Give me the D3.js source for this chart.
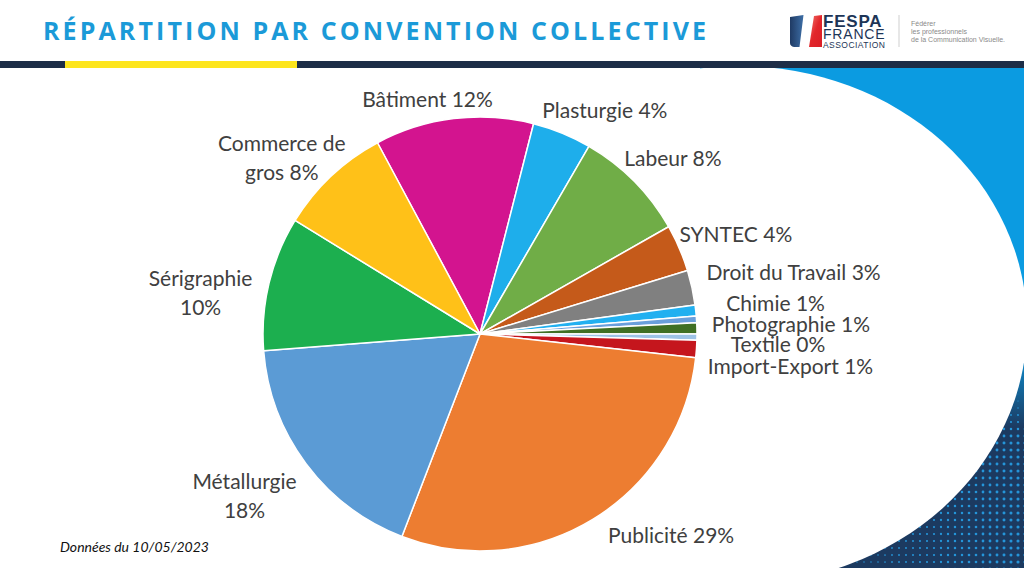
<!DOCTYPE html>
<html><head><meta charset="utf-8">
<script src="https://cdn.jsdelivr.net/npm/d3@7"></script>
<style>html,body{margin:0;padding:0;background:#fff;overflow:hidden} svg{display:block}</style>
</head><body>
<svg id="c" width="1024" height="568"></svg>
<script>
// ---- data ----
const categories = ["Bâtiment","Plasturgie","Labeur","SYNTEC","Droit du Travail","Chimie","Autres","Photographie","Textile","Import-Export","Publicité","Métallurgie","Sérigraphie","Commerce de gros"];
const values = [11.8, 4.4, 8.4, 3.5, 2.6, 0.8, 0.5, 0.83, 0.45, 1.3, 29.1, 17.9, 10.0, 8.4];
const sliceColors = ["#d3148f","#1eaeeb","#70ad47","#c55a1a","#808080","#22b0f0","#6a9fdc","#3f6f24","#9dc3e6","#c5161d","#ed7d31","#5b9bd5","#1caf4f","#ffc118"];
const showLabel = [true,true,true,true,true,true,false,true,true,true,true,true,true,true];
const firstLineWords = [0,0,0,0,0,0,0,0,0,0,0,1,1,2];
const labelNudge = [[-24,6],[36,2],[26,-3],[40,1.5],[84,-4],[62,2.5],[0,0],[76,4],[63,15],[76,24],[69,8],[-47,14.6],[-51,7],[-37,-12]];
const titleText = "RÉPARTITION PAR CONVENTION COLLECTIVE";
const footnote = "Données du 10/05/2023";
const logoLines = ["FESPA","FRANCE","ASSOCIATION"];
const taglineLines = ["Fédérer","les professionnels","de la Communication Visuelle."];

const svg = d3.select("#c");
const defs = svg.append("defs");

// ---- right decoration ----
const bg = defs.append("linearGradient").attr("id","bg").attr("gradientUnits","userSpaceOnUse")
  .attr("x1",0).attr("y1",68).attr("x2",0).attr("y2",568);
[[0,"#0b9be1"],[0.55,"#0b9be1"],[0.72,"#1c3a60"],[1,"#1c3a60"]].forEach(s=>bg.append("stop").attr("offset",s[0]).attr("stop-color",s[1]));
svg.append("rect").attr("x",700).attr("y",68).attr("width",324).attr("height",500).attr("fill","url(#bg)");
const dots = [];
for (let x = 822; x < 1026; x += 7) for (let y = 380; y < 570; y += 7) dots.push([x,y]);
svg.append("g").selectAll("circle").data(dots).join("circle")
  .attr("cx",d=>d[0]).attr("cy",d=>d[1])
  .attr("r",d=>{const tx=Math.max(0,Math.min(1,(d[0]-820)/204)); const ty=Math.max(0,Math.min(1,(d[1]-380)/60)); return (0.5+1.1*tx)*ty;})
  .attr("fill","#27a6ee").attr("opacity",0.85);
svg.append("ellipse").attr("cx",739).attr("cy",325).attr("rx",288).attr("ry",259).attr("fill","#fff");

// ---- header ----
svg.append("rect").attr("x",0).attr("y",61).attr("width",1024).attr("height",7).attr("fill","#1d2d47");
svg.append("rect").attr("x",65).attr("y",61).attr("width",232).attr("height",7).attr("fill","#fde51c");
svg.append("text").attr("x",43).attr("y",39.5).text(titleText)
  .attr("font-family","'Open Sans',sans-serif").attr("font-weight",700)
  .attr("font-size",25).attr("fill","#1b9ad8").attr("textLength",663).attr("lengthAdjust","spacing");

// logo
const fg1 = defs.append("linearGradient").attr("id","fb").attr("x1",0).attr("x2",1).attr("y1",0).attr("y2",0);
fg1.append("stop").attr("offset",0).attr("stop-color","#1f3a63");
fg1.append("stop").attr("offset",1).attr("stop-color","#3d6ea6");
const fg2 = defs.append("linearGradient").attr("id","fr").attr("x1",0).attr("x2",1).attr("y1",0).attr("y2",1);
fg2.append("stop").attr("offset",0).attr("stop-color","#f27a70");
fg2.append("stop").attr("offset",0.5).attr("stop-color","#e2262b");
fg2.append("stop").attr("offset",1).attr("stop-color","#d91e26");
svg.append("path").attr("d","M790,17 L803.5,15 L799.5,47 L794,47 Q790,46 790,43 Z").attr("fill","url(#fb)");
svg.append("path").attr("d","M814,16 L822,15 L822,47 L809,47 Z").attr("fill","url(#fr)");
const logoStyle = [{y:27,size:17,w:700,ls:0.8},{y:38.5,size:14,w:400,ls:0.8},{y:47.5,size:8.5,w:400,ls:0.45}];
const logoText = svg.append("text").attr("font-family","'Liberation Sans',Arial,sans-serif").attr("fill","#1d3557");
logoText.selectAll("tspan").data(logoLines).join("tspan")
  .attr("x",823).attr("y",(d,i)=>logoStyle[i].y).attr("font-size",(d,i)=>logoStyle[i].size)
  .attr("font-weight",(d,i)=>logoStyle[i].w).attr("letter-spacing",(d,i)=>logoStyle[i].ls).text(d=>d);
svg.append("line").attr("x1",899).attr("x2",899).attr("y1",15).attr("y2",47).attr("stroke","#cfcfcf").attr("stroke-width",1);
svg.append("text").attr("font-family","'Liberation Sans',Arial,sans-serif").attr("font-size",7).attr("fill","#8a8a8a")
  .selectAll("tspan").data(taglineLines).join("tspan")
  .attr("x",911).attr("y",(d,i)=>25.5+i*8).text(d=>d);

// ---- pie ----
const cx = 480, cy = 334, R = 217;
const startA = -28.2*Math.PI/180;
const rows = categories.map((c,i)=>({name:c, v:values[i], color:sliceColors[i], show:showLabel[i], split:firstLineWords[i], nudge:labelNudge[i]}));
const total = d3.sum(values);
const pie = d3.pie().sort(null).value(d=>d.v).startAngle(startA).endAngle(startA+2*Math.PI);
const arcs = pie(rows);
const arc = d3.arc().innerRadius(0).outerRadius(R);
const labelArc = d3.arc().innerRadius(235).outerRadius(235);
const gp = svg.append("g").attr("transform",`translate(${cx},${cy})`);
gp.selectAll("path").data(arcs).join("path").attr("d",arc)
  .attr("fill",d=>d.data.color).attr("stroke","#fff").attr("stroke-width",1.5).attr("stroke-linejoin","round");

const lbl = gp.append("g").selectAll("text").data(arcs.filter(d=>d.data.show)).join("text")
  .attr("font-family","Lato,'Open Sans',sans-serif").attr("font-size",21).attr("fill","#404040")
  .attr("text-anchor","middle")
  .attr("transform",d=>{const p=labelArc.centroid(d); return `translate(${p[0]+d.data.nudge[0]},${p[1]+d.data.nudge[1]})`;});
lbl.each(function(d){
  const pct = Math.round(d.data.v/total*100) + "%";
  const words = (d.data.name + " " + pct).split(" ");
  const lines = d.data.split ? [words.slice(0,d.data.split).join(" "), words.slice(d.data.split).join(" ")] : [words.join(" ")];
  d3.select(this).selectAll("tspan").data(lines).join("tspan").attr("x",0).attr("dy",(l,i)=>i?29:0).text(l=>l);
});

// ---- footnote ----
svg.append("text").attr("x",60).attr("y",552).text(footnote)
  .attr("font-family","Lato,'Open Sans',sans-serif").attr("font-style","italic").attr("font-size",14).attr("fill","#111");
</script>
</body></html>
